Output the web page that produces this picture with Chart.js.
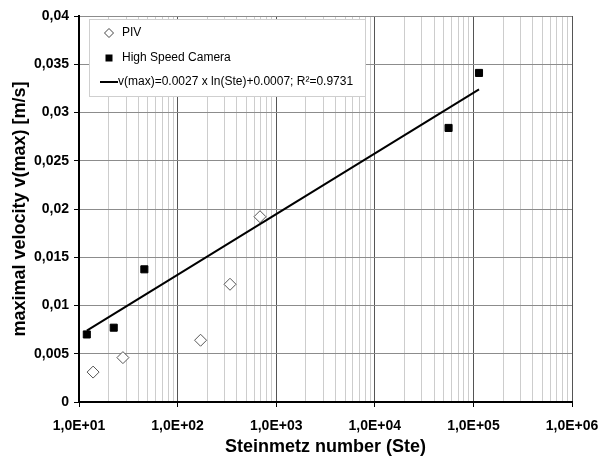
<!DOCTYPE html>
<html lang="en">
<head>
  <meta charset="UTF-8">
  <title>Maximal velocity vs Steinmetz number</title>
  <script src="https://cdn.jsdelivr.net/npm/chart.js"></script>
  <style>
    body { margin: 0; background: #fff; }
  </style>
</head>
<body>
  <canvas id="chart" width="599" height="457"></canvas>
  <script>
    // values
    const pivX = [13.9, 27.9, 171, 340, 685];
    const pivY = [0.0031, 0.0046, 0.0064, 0.0122, 0.0192];
    const hscX = [12, 22.5, 46, 56000, 114000];
    const hscY = [0.0070, 0.0077, 0.01375, 0.0284, 0.0341];
    // fitted trend line end points (v = 0.0027 ln(Ste) + 0.0007)
    const trendX = [12, 114000];
    const trendY = [0.0074, 0.0324];

    const xDecades = [1e1, 1e2, 1e3, 1e4, 1e5, 1e6];
    const xTickLabels = ['1,0E+01', '1,0E+02', '1,0E+03', '1,0E+04', '1,0E+05', '1,0E+06'];
    const xMinorSteps = [2, 3, 4, 5, 6, 7, 8, 9];
    const yTicks = [0, 0.005, 0.01, 0.015, 0.02, 0.025, 0.03, 0.035, 0.04];
    const yTickLabels = ['0', '0,005', '0,01', '0,015', '0,02', '0,025', '0,03', '0,035', '0,04'];

    const labels = ['PIV', 'High Speed Camera', 'v(max)=0.0027 x ln(Ste)+0.0007; R\u00B2=0.9731'];

    const toPoints = (xs, ys) => xs.map((x, i) => ({ x: x, y: ys[i] }));
    const isDecade = v => xDecades.indexOf(v) >= 0;

    Chart.defaults.font.family = '"Liberation Sans", Arial, sans-serif';
    Chart.defaults.color = '#000';

    // legend box drawn inside the plot, like the spreadsheet original
    const boxLegend = {
      id: 'boxLegend',
      afterDraw(chart) {
        const { ctx, chartArea } = chart;
        const ds = chart.data.datasets;
        const x = chartArea.left + 10, y = chartArea.top + 3;
        ctx.save();
        ctx.fillStyle = '#fff';
        ctx.fillRect(x, y, 276, 77);
        ctx.strokeStyle = '#cfcfcf';
        ctx.lineWidth = 1;
        ctx.strokeRect(x + 0.5, y + 0.5, 276, 77);

        ctx.font = '12px "Liberation Sans", Arial, sans-serif';
        ctx.fillStyle = '#000';
        ctx.textBaseline = 'middle';

        // PIV diamond
        let cy = y + 14, cx = x + 20;
        ctx.beginPath();
        ctx.moveTo(cx, cy - 4.5); ctx.lineTo(cx + 4.5, cy); ctx.lineTo(cx, cy + 4.5); ctx.lineTo(cx - 4.5, cy); ctx.closePath();
        ctx.strokeStyle = '#444';
        ctx.stroke();
        ctx.fillText(ds[0].label, x + 33, cy);

        // camera square
        cy = y + 39;
        ctx.fillRect(cx - 3.5, cy - 3.5, 7, 7);
        ctx.fillText(ds[1].label, x + 33, cy);

        // trend line
        cy = y + 63;
        ctx.beginPath();
        ctx.moveTo(x + 11, cy); ctx.lineTo(x + 29, cy);
        ctx.strokeStyle = '#000';
        ctx.lineWidth = 2;
        ctx.stroke();
        ctx.fillText(ds[2].label, x + 29, cy);
        ctx.restore();
      }
    };

    new Chart(document.getElementById('chart'), {
      type: 'scatter',
      data: {
        datasets: [
          {
            label: labels[0],
            data: toPoints(pivX, pivY),
            pointStyle: 'rectRot',
            pointRadius: 6,
            backgroundColor: '#fff',
            borderColor: '#555',
            borderWidth: 1,
            order: 2
          },
          {
            label: labels[1],
            data: toPoints(hscX, hscY),
            pointStyle: 'rect',
            pointRadius: 5,
            backgroundColor: '#000',
            borderColor: '#000',
            borderWidth: 1,
            order: 1
          },
          {
            label: labels[2],
            data: toPoints(trendX, trendY),
            showLine: true,
            pointRadius: 0,
            borderColor: '#000',
            borderWidth: 2,
            order: 0
          }
        ]
      },
      options: {
        responsive: false,
        animation: false,
        layout: { padding: { left: 0, right: 27, top: 16, bottom: 0 } },
        plugins: {
          legend: { display: false },
          tooltip: { enabled: false }
        },
        scales: {
          x: {
            type: 'logarithmic',
            min: 10,
            max: 1e6,
            afterBuildTicks: scale => {
              const ticks = [];
              xDecades.forEach((d, i) => {
                ticks.push({ value: d, major: true });
                if (i < xDecades.length - 1) xMinorSteps.forEach(k => ticks.push({ value: k * d }));
              });
              scale.ticks = ticks;
            },
            afterFit: scale => {
              scale.height = 55;
              scale.paddingLeft = 0;
              scale.paddingRight = 0;
            },
            ticks: {
              autoSkip: false,
              maxRotation: 0,
              padding: 11,
              font: { size: 14, weight: 'bold' },
              callback: value => isDecade(value) ? xTickLabels[xDecades.indexOf(value)] : ''
            },
            grid: {
              color: c => c.tick && isDecade(c.tick.value) ? '#555' : '#cdcdcd',
              tickColor: c => c.tick && isDecade(c.tick.value) ? '#000' : 'rgba(0,0,0,0)',
              tickLength: 5,
              lineWidth: 1
            },
            border: { color: '#000', width: 2 },
            title: {
              display: true,
              text: 'Steinmetz number (Ste)',
              font: { size: 18, weight: 'bold' },
              padding: { top: 0, bottom: -1 }
            }
          },
          y: {
            min: 0,
            max: 0.04,
            afterBuildTicks: scale => { scale.ticks = yTicks.map(v => ({ value: v })); },
            afterFit: scale => {
              scale.width = 79;
              scale.paddingTop = 0;
              scale.paddingBottom = 0;
            },
            ticks: {
              padding: 5,
              font: { size: 14, weight: 'bold' },
              callback: (value, i) => yTickLabels[i]
            },
            grid: {
              color: '#8c8c8c',
              tickColor: '#000',
              tickLength: 5,
              lineWidth: 1
            },
            border: { color: '#000', width: 2 },
            title: {
              display: true,
              text: 'maximal velocity v(max) [m/s]',
              font: { size: 18, weight: 'bold' },
              padding: { top: 9, bottom: 0 }
            }
          }
        }
      },
      plugins: [boxLegend]
    });
  </script>
</body>
</html>
